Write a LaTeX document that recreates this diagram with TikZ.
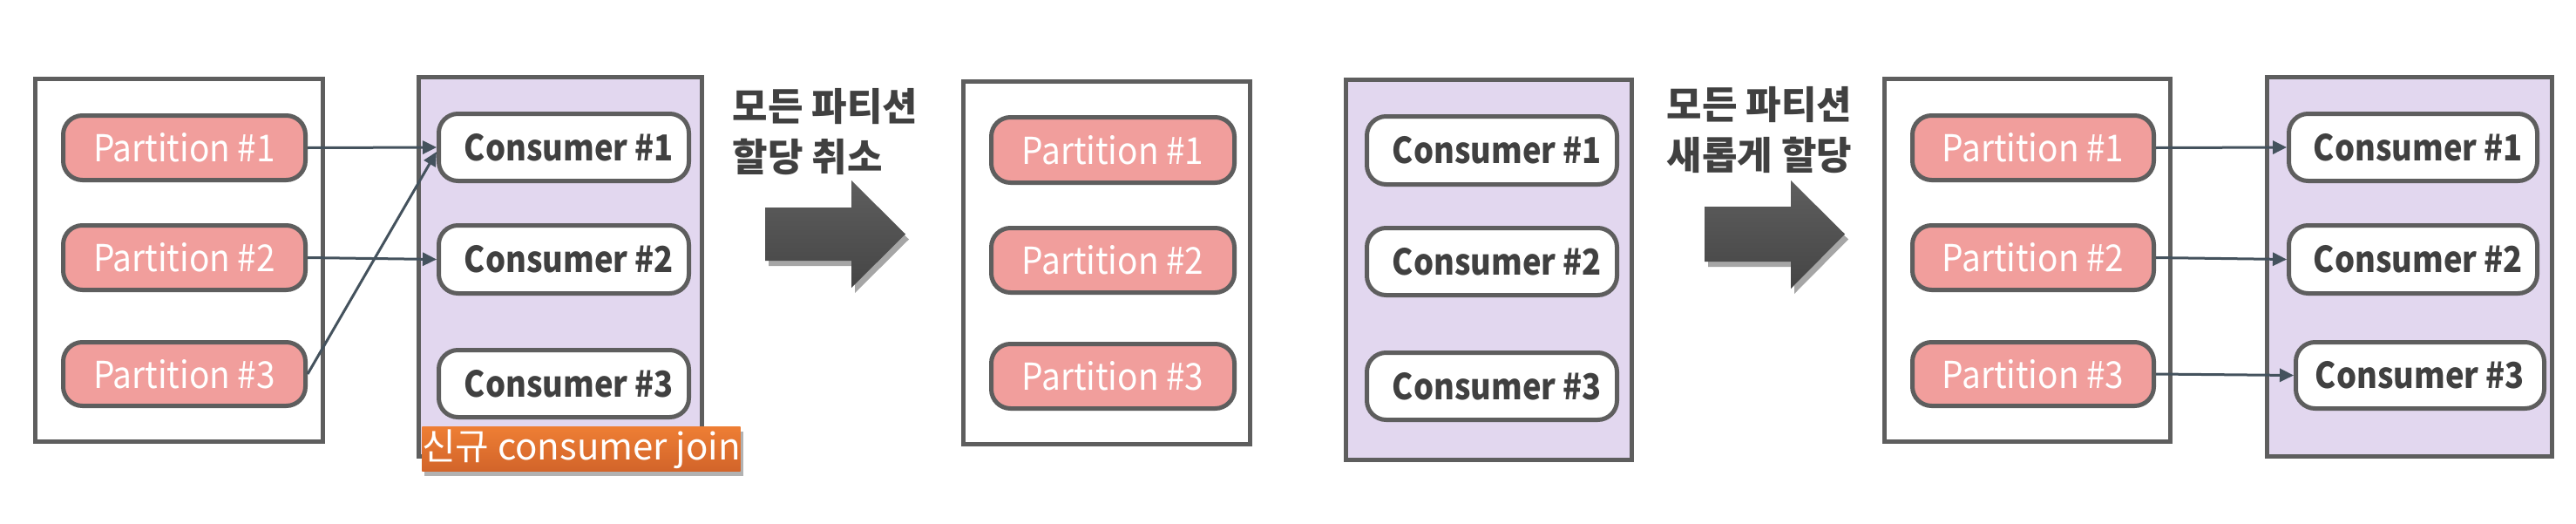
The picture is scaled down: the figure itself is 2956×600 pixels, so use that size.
\documentclass[tikz,border=0pt]{standalone}
\usepackage{fontspec}
\setmainfont{Noto Sans CJK KR}
\newfontfamily\narrowpart[FakeStretch=0.91]{Noto Sans CJK KR}
\newfontfamily\narrowcons[FakeStretch=0.885]{Noto Sans CJK KR}
\usetikzlibrary{arrows.meta,shadows,calc}
\definecolor{gborder}{HTML}{5E5E5E}
\definecolor{pinkfill}{HTML}{F19E9C}
\definecolor{lav}{HTML}{E2D7EF}
\definecolor{textdark}{HTML}{404040}
\definecolor{arrowc}{HTML}{44525D}
\definecolor{orangetop}{HTML}{EE7E34}
\definecolor{orangebot}{HTML}{D2642A}
\definecolor{bigtop}{HTML}{5E5E5E}
\definecolor{bigbot}{HTML}{454545}
\tikzset{
  sz/.style n args={2}{minimum width={(#1)*0.5pt-2.5pt}, minimum height={(#2)*0.5pt-2.5pt}},
  grp/.style={draw=gborder, line width=2.5pt, rectangle, inner sep=0pt},
  pgrp/.style={grp, fill=white},
  cgrp/.style={grp, fill=lav},
  part/.style={draw=gborder, line width=2.5pt, fill=pinkfill, rounded corners=11pt,
    inner sep=0pt, text=white, font=\narrowpart\fontsize{21.3}{24}\selectfont},
  cons/.style={draw=gborder, line width=2.5pt, fill=white, rounded corners=11pt,
    inner sep=0pt, text=textdark, font=\narrowcons\bfseries\fontsize{20.5}{24}\selectfont},
  link/.style={draw=arrowc, line width=1.5pt, -{Triangle[length=8pt,width=7.5pt]}},
  head/.style={text=textdark, font=\bfseries\fontsize{22}{29}\selectfont, align=left, inner sep=0pt},
  bigarrow/.style={top color=bigtop, bottom color=bigbot, draw=none,
    drop shadow={shadow xshift=2pt, shadow yshift=-3pt, opacity=0.35, fill=black}},
  joinlbl/.style={top color=orangetop, bottom color=orangebot, draw=none, text=white,
    inner sep=0pt, font=\fontsize{21}{24}\selectfont,
    drop shadow={shadow xshift=1.5pt, shadow yshift=-2.5pt, opacity=0.3, fill=black}}
}
\begin{document}
\begin{tikzpicture}[x=0.5pt,y=-0.5pt]
\useasboundingbox (0,0) rectangle (2956,600);

% ---------- stage 1 ----------
\node[pgrp, sz={335}{421}] (g1) at (205.5,298.5) {};
\node[part, sz={283}{79}] (p1a) at (211.5,169.5) {Partition \#1};
\node[part, sz={283}{79}] (p2a) at (211.5,295.5) {Partition \#2};
\node[part, sz={283}{78}] (p3a) at (211.5,429) {Partition \#3};

\node[cgrp, sz={330}{440}] (g2) at (643,306) {};
\node[cons, sz={292}{82}] (c1a) at (647,169) {\hspace{6pt}Consumer \#1};
\node[cons, sz={292}{83}] (c2a) at (647,297.5) {\hspace{6pt}Consumer \#2};
\node[cons, sz={292}{82}] (c3a) at (647,440) {\hspace{6pt}Consumer \#3};
\node[joinlbl, sz={358}{56}] (join) at (667,515) {신규 consumer join};

\draw[link] (p1a.east) -- (c1a.west);
\draw[link] (p2a.east) -- (c2a.west);
\draw[link] (p3a.east) -- ($(c1a.west)+(0,5)$);

\node[head] (t1) at (947,151) {모든 파티션\\할당 취소};
\path[bigarrow] (878,238) -- (977,238) -- (977,207) -- (1039,268.5) -- (977,330) -- (977,299) -- (878,299) -- cycle;

% ---------- stage 2 ----------
\node[pgrp, sz={334}{421}] (g3) at (1270,301.5) {};
\node[part, sz={284}{80}] (p1b) at (1277,172) {Partition \#1};
\node[part, sz={284}{79}] (p2b) at (1277,298.5) {Partition \#2};
\node[part, sz={284}{79}] (p3b) at (1277,431.5) {Partition \#3};

\node[cgrp, sz={333}{441}] (g4) at (1708.5,309.5) {};
\node[cons, sz={292}{83}] (c1b) at (1712,172.5) {\hspace{6pt}Consumer \#1};
\node[cons, sz={292}{82}] (c2b) at (1712,300) {\hspace{6pt}Consumer \#2};
\node[cons, sz={292}{82}] (c3b) at (1712,443) {\hspace{6pt}Consumer \#3};

\node[head] (t2) at (2019,149) {모든 파티션\\새롭게 할당};
\path[bigarrow] (1956,237) -- (2055,237) -- (2055,207) -- (2117,268.5) -- (2055,331) -- (2055,300) -- (1956,300) -- cycle;

% ---------- stage 3 ----------
\node[pgrp, sz={333}{421}] (g5) at (2326.5,298.5) {};
\node[part, sz={282}{79}] (p1c) at (2333,169.5) {Partition \#1};
\node[part, sz={282}{79}] (p2c) at (2333,295.5) {Partition \#2};
\node[part, sz={282}{78}] (p3c) at (2333,429) {Partition \#3};

\node[cgrp, sz={332}{440}] (g6) at (2765,306) {};
\node[cons, sz={290}{82}] (c1c) at (2769,169) {\hspace{6pt}Consumer \#1};
\node[cons, sz={290}{83}] (c2c) at (2769,297.5) {\hspace{6pt}Consumer \#2};
\node[cons, sz={290}{81}] (c3c) at (2777,430.5) {Consumer \#3};

\draw[link] (p1c.east) -- (c1c.west);
\draw[link] (p2c.east) -- (c2c.west);
\draw[link] (p3c.east) -- (c3c.west);
\end{tikzpicture}
\end{document}
